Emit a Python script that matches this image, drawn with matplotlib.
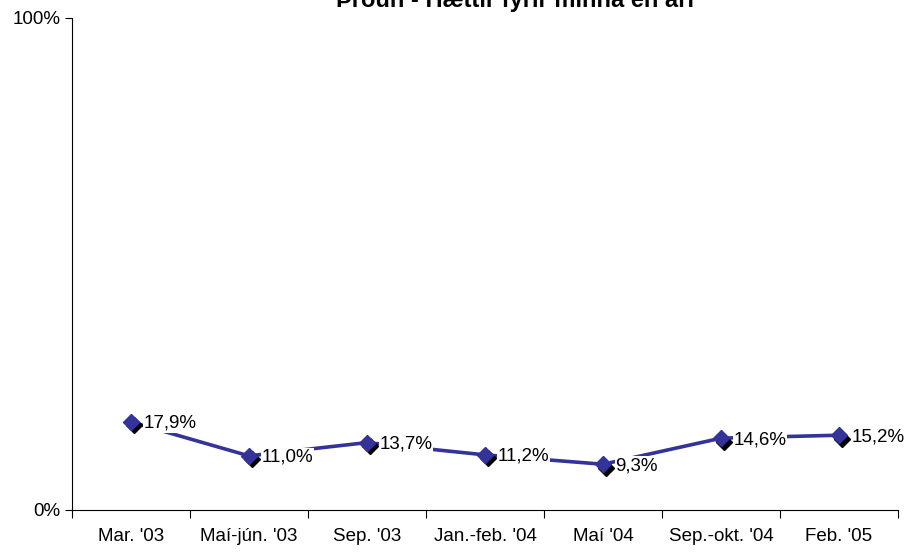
import matplotlib
matplotlib.use("Agg")
import matplotlib.pyplot as plt
from matplotlib import font_manager
import matplotlib.transforms as mtransforms

categories = ["Mar. '03", "Maí-jún. '03", "Sep. '03", "Jan.-feb. '04",
              "Maí '04", "Sep.-okt. '04", "Feb. '05"]
values = [17.9, 11.0, 13.7, 11.2, 9.3, 14.6, 15.2]
title = "Þróun - Hættir fyrir minna en ári"

names = {f.name for f in font_manager.fontManager.ttflist}
family = ["Liberation Sans Narrow", "DejaVu Sans"] if "Liberation Sans Narrow" in names else ["Liberation Sans", "DejaVu Sans"]
plt.rcParams["font.family"] = family

NAVY = "#333399"

fig = plt.figure(figsize=(9.15, 5.52), dpi=100)
ax = fig.add_axes([72 / 915, 42 / 552, 826 / 915, 492 / 552])

x = list(range(len(values)))
ax.plot(x, values, color=NAVY, linewidth=2.6, zorder=2)
# dark drop shadow under the markers
shadow = mtransforms.offset_copy(ax.transData, fig=fig, x=2.5, y=-2.5, units="points")
ax.plot(x, values, linestyle="none", marker="D", markersize=8.5, color="black",
        transform=shadow, zorder=3)
ax.plot(x, values, linestyle="none", marker="D", markersize=8.5, color=NAVY, zorder=4)

for xi, v in zip(x, values):
    ax.annotate(f"{v:.1f}%".replace(".", ","), (xi, v), xytext=(9, -1),
                textcoords="offset points", ha="left", va="center", fontsize=13.5,
                bbox=dict(facecolor="white", edgecolor="none", pad=0.5), zorder=5)

ax.set_xlim(-0.5, len(values) - 0.5)
ax.set_ylim(0, 100)
ax.set_yticks([0, 100])
ax.set_yticklabels(["0%", "100%"], fontsize=13.5)
ax.set_xticks([i - 0.5 for i in range(len(values) + 1)])
ax.set_xticklabels([])
ax.set_xticks(x, minor=True)
ax.set_xticklabels(categories, minor=True, fontsize=13.5)
ax.tick_params(axis="x", which="minor", length=0, pad=13)
ax.tick_params(axis="x", which="major", length=6, direction="out")
ax.tick_params(axis="y", length=5, direction="out")
for s in ["top", "right"]:
    ax.spines[s].set_visible(False)

fig.text(515 / 915, 1 - 7 / 552, title, ha="center", va="baseline",
         fontsize=17, fontweight="bold")

fig.savefig("out.png", dpi=100)
